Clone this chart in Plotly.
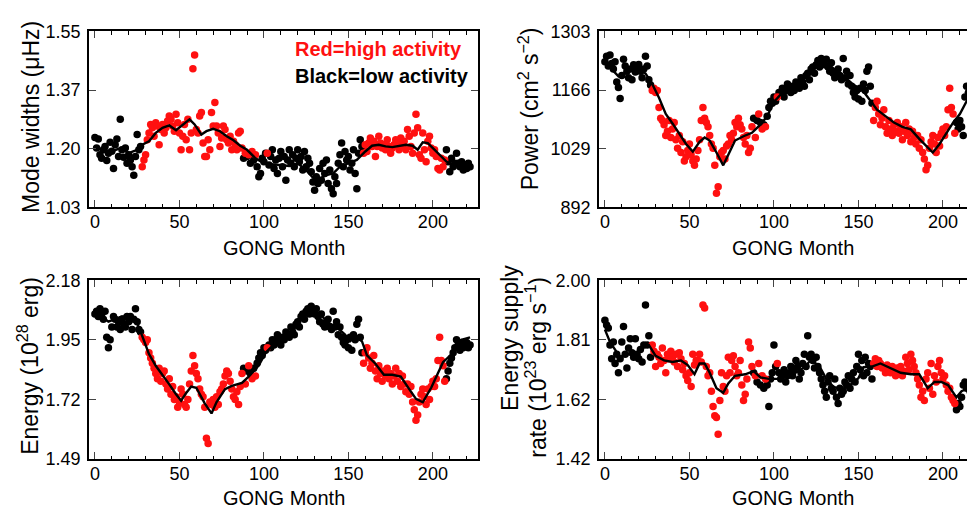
import plotly.graph_objects as go

# ---------------- data ----------------
months = list(range(223))
red_spans = [(28, 87), (159, 207)]
red_extra = [89, 91, 93, 95, 102]

mode_width = [1.236,1.205,1.232,1.185,1.175,1.200,1.210,1.168,1.190,1.222,
 1.196,1.145,1.215,1.232,1.180,1.290,1.200,1.178,1.205,1.160,
 1.185,1.170,1.150,1.125,1.180,1.245,1.200,1.210,1.150,1.170,
 1.185,1.230,1.250,1.275,1.265,1.240,1.280,1.270,1.215,1.260,
 1.275,1.250,1.265,1.285,1.300,1.290,1.270,1.255,1.305,1.280,
 1.250,1.200,1.240,1.275,1.230,1.290,1.200,1.250,1.440,1.480,
 1.260,1.250,1.300,1.310,1.220,1.180,1.180,1.230,1.200,1.310,
 1.270,1.340,1.270,1.250,1.210,1.235,1.270,1.260,1.230,1.220,
 1.240,1.200,1.225,1.215,1.200,1.250,1.255,1.205,1.175,1.190,
 1.180,1.185,1.160,1.195,1.170,1.185,1.150,1.120,1.130,1.175,
 1.165,1.190,1.190,1.155,1.180,1.200,1.145,1.170,1.130,1.175,
 1.195,1.150,1.180,1.110,1.170,1.200,1.160,1.185,1.150,1.175,
 1.200,1.165,1.180,1.140,1.195,1.150,1.175,1.160,1.135,1.105,
 1.080,1.120,1.100,1.145,1.110,1.160,1.130,1.170,1.100,1.140,
 1.085,1.070,1.120,1.100,1.160,1.185,1.220,1.150,1.195,1.170,
 1.180,1.140,1.160,1.200,1.130,1.085,1.190,1.230,1.210,1.190,
 1.215,1.195,1.220,1.235,1.210,1.225,1.180,1.210,1.240,1.220,
 1.205,1.215,1.200,1.230,1.210,1.190,1.205,1.215,1.230,1.220,
 1.200,1.235,1.210,1.225,1.200,1.260,1.240,1.210,1.190,1.250,
 1.305,1.265,1.185,1.175,1.250,1.200,1.165,1.225,1.240,1.205,
 1.190,1.200,1.180,1.145,1.140,1.175,1.150,1.170,1.200,1.165,
 1.135,1.175,1.150,1.160,1.190,1.160,1.150,1.165,1.140,1.155,
 1.145,1.160,1.150]

power = [1232,1245,1222,1248,1228,1215,1232,1185,1172,1146,
 1200,1238,1222,1210,1195,1215,1190,1225,1208,1218,
 1226,1210,1195,1215,1245,1222,1190,1178,1165,1170,
 1160,1165,1125,1100,1095,1085,1060,1070,1095,1055,
 1075,1090,1050,1030,1060,1020,1045,1000,1010,1025,
 1040,1015,1000,990,1005,1025,1050,1095,1125,1100,
 1090,1080,1060,1040,1030,990,925,940,1010,1020,
 1025,1005,1035,1040,1060,1050,1065,1090,1080,1100,
 1085,1075,1055,1040,1060,1020,1030,1080,1100,1055,
 1095,1110,1090,1075,1085,1080,1105,1125,1140,1135,
 1150,1140,1150,1160,1155,1170,1150,1165,1180,1170,
 1160,1175,1165,1185,1180,1170,1195,1185,1175,1200,
 1205,1190,1215,1220,1205,1225,1235,1220,1240,1230,
 1225,1238,1220,1210,1230,1205,1195,1210,1215,1200,
 1190,1240,1195,1210,1180,1200,1175,1160,1150,1165,
 1145,1170,1140,1180,1165,1210,1220,1175,1135,1095,
 1125,1140,1110,1085,1100,1120,1080,1065,1095,1075,
 1060,1085,1070,1090,1065,1080,1050,1070,1090,1060,
 1075,1045,1070,1055,1040,1060,1030,1050,1020,1005,
 980,990,1030,1045,1060,1040,1020,1055,1035,1065,
 1075,1060,1080,1120,1170,1125,1110,1065,1090,1075,
 1095,1080,1060,1150,1175,1160,1150,1165,1155,1150,
 1160,1145,1150]

energy = [2.05,2.06,2.04,2.07,2.05,2.03,2.06,1.96,1.92,1.95,
 2.00,2.04,2.03,2.00,2.02,1.99,2.03,2.01,2.00,2.04,
 2.02,2.04,1.99,2.03,2.07,2.02,1.99,1.98,1.96,1.95,
 1.94,1.95,1.90,1.88,1.86,1.84,1.82,1.80,1.84,1.79,
 1.82,1.83,1.78,1.76,1.80,1.74,1.77,1.72,1.73,1.69,
 1.71,1.76,1.74,1.70,1.69,1.72,1.78,1.83,1.89,1.85,
 1.82,1.80,1.76,1.74,1.73,1.69,1.57,1.55,1.71,1.70,
 1.72,1.69,1.73,1.70,1.75,1.76,1.78,1.81,1.83,1.82,
 1.79,1.76,1.73,1.72,1.75,1.70,1.77,1.82,1.84,1.78,
 1.83,1.85,1.82,1.80,1.84,1.81,1.86,1.88,1.90,1.89,
 1.92,1.91,1.92,1.93,1.92,1.95,1.93,1.95,1.97,1.94,
 1.93,1.96,1.95,1.98,1.97,1.96,2.00,1.98,1.97,2.01,
 2.02,2.00,2.04,2.05,2.03,2.06,2.07,2.05,2.08,2.06,
 2.05,2.07,2.04,2.02,2.05,2.01,2.00,2.02,2.03,2.00,
 1.99,2.06,2.00,2.02,1.97,2.00,1.96,1.94,1.93,1.95,
 1.92,1.96,1.91,1.97,1.95,2.01,2.03,1.96,1.90,1.86,
 1.90,1.92,1.88,1.84,1.86,1.89,1.83,1.80,1.85,1.82,
 1.79,1.83,1.81,1.84,1.80,1.82,1.78,1.81,1.84,1.79,
 1.82,1.77,1.81,1.78,1.75,1.78,1.74,1.77,1.71,1.68,
 1.64,1.66,1.71,1.74,1.76,1.73,1.70,1.76,1.72,1.77,
 1.79,1.77,1.80,1.87,1.96,1.87,1.85,1.79,1.80,1.83,
 1.86,1.88,1.90,1.92,1.95,1.93,1.91,1.94,1.92,1.93,
 1.94,1.92,1.93]

supply_rate = [1.870,1.855,1.845,1.790,1.745,1.800,1.730,1.760,1.700,1.745,
 1.800,1.850,1.760,1.715,1.780,1.810,1.765,1.750,1.810,1.760,
 1.745,1.775,1.735,1.790,1.920,1.790,1.820,1.750,1.790,1.770,
 1.720,1.760,1.750,1.730,1.780,1.740,1.700,1.760,1.745,1.770,
 1.750,1.735,1.760,1.720,1.765,1.745,1.710,1.730,1.690,1.675,
 1.700,1.655,1.760,1.725,1.740,1.740,1.760,1.735,1.920,1.910,
 1.720,1.690,1.700,1.640,1.590,1.560,1.555,1.500,1.610,1.700,
 1.655,1.640,1.690,1.750,1.700,1.740,1.755,1.720,1.690,1.700,
 1.740,1.660,1.610,1.630,1.680,1.800,1.780,1.720,1.700,1.690,
 1.670,1.730,1.660,1.690,1.650,1.680,1.660,1.590,1.680,1.700,
 1.790,1.720,1.730,1.700,1.680,1.690,1.710,1.670,1.690,1.700,
 1.720,1.690,1.710,1.740,1.720,1.680,1.700,1.730,1.760,1.720,
 1.820,1.750,1.760,1.740,1.715,1.750,1.720,1.700,1.680,1.660,
 1.640,1.620,1.670,1.690,1.650,1.640,1.680,1.620,1.600,1.650,
 1.630,1.640,1.670,1.660,1.690,1.650,1.680,1.700,1.670,1.720,
 1.760,1.710,1.740,1.690,1.750,1.700,1.730,1.720,1.680,1.730,
 1.745,1.720,1.740,1.730,1.715,1.720,1.700,1.725,1.710,1.700,
 1.720,1.705,1.690,1.715,1.700,1.720,1.690,1.705,1.750,1.730,
 1.710,1.760,1.740,1.720,1.700,1.680,1.660,1.620,1.640,1.610,
 1.680,1.700,1.650,1.730,1.630,1.690,1.670,1.720,1.740,1.700,
 1.680,1.690,1.660,1.640,1.650,1.620,1.610,1.600,1.580,1.600,
 1.590,1.620,1.660,1.670,1.650,1.665,1.640,1.670,1.650,1.630,
 1.645,1.630,1.640]

# smoothed curves
mw_line_x = [0,5,10,15,20,25,28,32,36,40,44,48,52,56,59,63,66,70,74,78,82,86,90,95,100,105,110,115,120,125,129,133,137,141,145,150,155,160,164,168,172,176,180,184,188,191,194,197,200,204,208,212,216,222]
mw_line_y = [1.205,1.200,1.195,1.205,1.190,1.200,1.215,1.225,1.250,1.265,1.272,1.258,1.275,1.290,1.275,1.245,1.255,1.262,1.255,1.240,1.228,1.212,1.200,1.175,1.160,1.158,1.155,1.152,1.160,1.140,1.118,1.115,1.125,1.130,1.150,1.160,1.170,1.195,1.212,1.215,1.210,1.208,1.212,1.215,1.212,1.200,1.222,1.220,1.205,1.185,1.165,1.155,1.150,1.148]

pw_line_x = [0,4,8,12,16,20,24,28,32,36,40,44,48,52,56,59,62,66,70,73,77,82,87,92,96,100,104,110,116,122,128,132,137,142,147,152,157,161,166,171,176,181,186,190,194,198,202,206,210,214,218,222]
pw_line_y = [1228,1215,1198,1205,1215,1212,1205,1180,1148,1110,1088,1065,1040,1022,1045,1055,1048,1020,990,1015,1048,1058,1066,1085,1105,1138,1156,1170,1188,1210,1230,1228,1210,1196,1178,1168,1140,1120,1105,1090,1080,1074,1052,1035,1020,1040,1065,1090,1110,1140,1155,1160]

en_line_x = [0,4,8,12,16,20,24,28,32,36,40,44,48,51,54,57,60,65,69,72,77,81,87,91,97,101,105,111,117,121,126,131,135,139,143,148,151,154,158,161,166,171,176,181,186,190,194,199,206,212,217,222]
en_line_y = [2.055,2.040,2.020,2.030,2.040,2.040,2.030,1.965,1.895,1.850,1.815,1.778,1.740,1.715,1.745,1.770,1.765,1.705,1.666,1.710,1.760,1.772,1.784,1.808,1.852,1.900,1.926,1.945,1.980,2.025,2.050,2.056,2.037,2.013,2.000,1.970,1.945,1.963,1.945,1.890,1.858,1.815,1.815,1.808,1.760,1.722,1.709,1.765,1.864,1.900,1.950,1.960]

sr_line_x = [0,3,6,9,12,18,22,26,30,35,40,45,49,53,56,59,62,66,70,73,77,83,88,92,97,103,108,113,118,122,127,131,135,140,145,150,153,158,163,168,175,181,186,191,195,199,203,208,211,215,222]
sr_line_y = [1.840,1.800,1.775,1.750,1.760,1.760,1.780,1.790,1.755,1.740,1.735,1.740,1.725,1.695,1.730,1.730,1.700,1.650,1.635,1.665,1.690,1.695,1.705,1.685,1.680,1.680,1.695,1.700,1.718,1.742,1.720,1.680,1.655,1.645,1.660,1.682,1.718,1.720,1.730,1.718,1.700,1.695,1.695,1.650,1.670,1.670,1.660,1.620,1.640,1.650,1.640]

x_ticks = [0, 50, 100, 150, 200]
mw_ticklabels = ["1.03", "1.20", "1.37", "1.55"]
pw_ticklabels = ["892", "1029", "1166", "1303"]
en_ticklabels = ["1.49", "1.72", "1.95", "2.18"]
sr_ticklabels = ["1.42", "1.62", "1.81", "2.00"]

# ---------------- figure ----------------
W, H = 975, 510
def px(x): return x / W
def py(y): return 1 - y / H

red_set = set(red_extra)
for a, b in red_spans:
    red_set.update(range(a, b + 1))

FONT = "Liberation Sans, Arial, Helvetica, sans-serif"
panels = [
    dict(vals=mode_width, lx=mw_line_x, ly=mw_line_y, rng=(1.03, 1.55), lab=mw_ticklabels,
         xd=(81, 470), yd=(14, 197), xmax=226.7, right=False),
    dict(vals=power, lx=pw_line_x, ly=pw_line_y, rng=(892, 1303), lab=pw_ticklabels,
         xd=(591, 975), yd=(14, 197), xmax=223.7, right=True),
    dict(vals=energy, lx=en_line_x, ly=en_line_y, rng=(1.49, 2.18), lab=en_ticklabels,
         xd=(81, 470), yd=(273, 459), xmax=226.7, right=False),
    dict(vals=supply_rate, lx=sr_line_x, ly=sr_line_y, rng=(1.42, 2.00), lab=sr_ticklabels,
         xd=(591, 975), yd=(273, 459), xmax=223.7, right=True),
]

fig = go.Figure()
layout = dict(width=W, height=H, margin=dict(l=0, r=0, t=0, b=0),
              paper_bgcolor="white", plot_bgcolor="white", showlegend=False,
              font=dict(family=FONT, size=18, color="black"))

for i, p in enumerate(panels, start=1):
    xa = "x" if i == 1 else f"x{i}"
    ya = "y" if i == 1 else f"y{i}"
    bx = [m for m in months if m not in red_set]
    by = [p["vals"][m] for m in bx]
    rx = [m for m in months if m in red_set]
    ry = [p["vals"][m] for m in rx]
    fig.add_trace(go.Scatter(x=bx, y=by, mode="markers", xaxis=xa, yaxis=ya,
                             marker=dict(color="black", size=7.5)))
    fig.add_trace(go.Scatter(x=rx, y=ry, mode="markers", xaxis=xa, yaxis=ya,
                             marker=dict(color="#ff1010", size=7.5)))
    fig.add_trace(go.Scatter(x=p["lx"], y=p["ly"], mode="lines", xaxis=xa, yaxis=ya,
                             line=dict(color="black", width=2.4)))
    lo, hi = p["rng"]
    yt = [lo + k * (hi - lo) / 3 for k in range(4)]
    xkey = "xaxis" if i == 1 else f"xaxis{i}"
    ykey = "yaxis" if i == 1 else f"yaxis{i}"
    layout[xkey] = dict(domain=[px(p["xd"][0]), px(p["xd"][1])], anchor=ya,
                        range=[-3.5, p["xmax"]], tickvals=x_ticks, ticks="inside",
                        ticklen=7, tickwidth=1.4, showline=True, linecolor="black",
                        linewidth=1.8, mirror="ticks", showgrid=False, zeroline=False,
                        ticklabelstandoff=-3, tickfont=dict(size=18),
                        minor=dict(dtick=10, tick0=0, ticks="inside", ticklen=3.5,
                                   tickwidth=1.2, tickcolor="black", showgrid=False))
    layout[ykey] = dict(domain=[py(p["yd"][1]), py(p["yd"][0])], anchor=xa,
                        range=[lo, hi], tickvals=yt, ticktext=p["lab"], ticks="inside",
                        ticklen=7, tickwidth=1.4, showline=True, linecolor="black",
                        linewidth=1.8, mirror=(False if p["right"] else "ticks"),
                        showgrid=False, zeroline=False, ticklabelstandoff=3,
                        tickfont=dict(size=18))

ann = []
def add_text(x, y, text, size, angle=0, color="black", xanchor="center", bold=False):
    t = f"<b>{text}</b>" if bold else text
    ann.append(dict(x=px(x), y=py(y), xref="paper", yref="paper", text=t, showarrow=False,
                    textangle=angle, xanchor=xanchor, yanchor="middle",
                    font=dict(family=FONT, size=size, color=color)))

add_text(276, 239, "GONG Month", 20)
add_text(785, 239, "GONG Month", 20)
add_text(276, 500, "GONG Month", 20)
add_text(785, 500, "GONG Month", 20)
add_text(23, 103, "Mode widths (μHz)", 23, angle=-90)
add_text(521, 95, "Power (cm<sup>2</sup> s<sup>−2</sup>)", 23, angle=-90)
add_text(20, 362, "Energy (10<sup>28</sup> erg)", 23, angle=-90)
add_text(502, 333, "Energy supply", 23, angle=-90)
add_text(528, 364, "rate (10<sup>23</sup> erg s<sup>−1</sup>)", 23, angle=-90)
add_text(285, 32, "Red=high activity", 20, color="#ff1010", xanchor="left", bold=True)
add_text(285, 60, "Black=low activity", 20, color="black", xanchor="left", bold=True)

layout["annotations"] = ann
fig.update_layout(**layout)
fig.write_html("out.html")
